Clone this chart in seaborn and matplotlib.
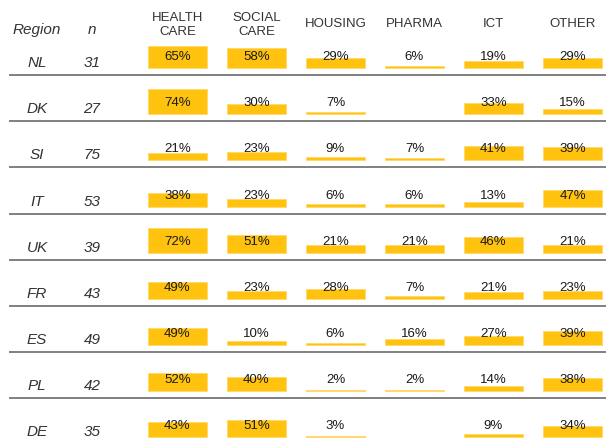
#!/usr/bin/env python

"""
Plot a grid of small bars showing the share of respondents per sector, by region
"""

import matplotlib.pyplot as plt
import pandas as pd
import seaborn as sns

REGIONS = ["NL", "DK", "SI", "IT", "UK", "FR", "ES", "PL", "DE"]
N_RESP = [31, 27, 75, 53, 39, 43, 49, 42, 35]
SECTORS = ["HEALTH\nCARE", "SOCIAL\nCARE", "HOUSING", "PHARMA", "ICT", "OTHER"]
HEALTH_CARE = [65, 74, 21, 38, 72, 49, 49, 52, 43]
SOCIAL_CARE = [58, 30, 23, 23, 51, 23, 10, 40, 51]
HOUSING = [29, 7, 9, 6, 21, 28, 6, 2, 3]
PHARMA = [6, None, 7, 6, 21, 7, 16, 2, None]
ICT = [19, 33, 41, 13, 46, 21, 27, 14, 9]
OTHER = [29, 15, 39, 47, 21, 23, 39, 38, 34]

# Layout (pixels)
W, H, DPI = 606, 443, 100
LEFT, RIGHT = 10, 606
ROW_TOP, ROW_PITCH = 28.9, 46.15
PX_PER_UNIT = 0.345
BAR_GAP = 7
XLIM = (-2.12, 5.424)

BAR_COLOUR = "#FFC20E"
TEXT_COLOUR = "#333333"


def build_table():
    """Long form table of shares"""
    wide = pd.DataFrame(
        {
            "Region": REGIONS,
            "n": N_RESP,
            SECTORS[0]: HEALTH_CARE,
            SECTORS[1]: SOCIAL_CARE,
            SECTORS[2]: HOUSING,
            SECTORS[3]: PHARMA,
            SECTORS[4]: ICT,
            SECTORS[5]: OTHER,
        }
    )
    table = wide.melt(id_vars=["Region", "n"], var_name="Sector", value_name="Share")
    return table.dropna()


def plot_row(row, n, ax, last=False):
    """Plot one region as a row of bars"""
    sns.barplot(
        data=row,
        x="Sector",
        y="Share",
        order=SECTORS,
        color=BAR_COLOUR,
        saturation=1,
        width=0.75,
        errorbar=None,
        edgecolor="#FFD866",
        linewidth=0.6,
        ax=ax,
    )

    ymin = -BAR_GAP / PX_PER_UNIT
    ymax = ymin + ROW_PITCH / PX_PER_UNIT
    ax.set_xlim(*XLIM)
    ax.set_ylim(ymin, ymax)
    ax.set(xlabel=None, ylabel=None, xticks=[], yticks=[])

    # Value labels
    for sector, share in zip(row["Sector"], row["Share"]):
        ax.text(
            SECTORS.index(sector), 8 / PX_PER_UNIT, f"{share:.0f}%",
            ha="center", va="baseline", fontsize=9.5, color="#1a1a1a",
        )

    # Region and n
    region = row["Region"].iloc[0]
    ax.text((37 - LEFT) / (RIGHT - LEFT), 8 / ROW_PITCH, region, transform=ax.transAxes,
            ha="center", va="baseline", fontsize=11, style="italic", color=TEXT_COLOUR)
    ax.text((92 - LEFT) / (RIGHT - LEFT), 8 / ROW_PITCH, str(n), transform=ax.transAxes,
            ha="center", va="baseline", fontsize=11, style="italic", color=TEXT_COLOUR)

    for side in ["top", "left", "right"]:
        ax.spines[side].set_visible(False)
    ax.spines["bottom"].set_visible(not last)
    ax.spines["bottom"].set_color("#808080")
    ax.spines["bottom"].set_linewidth(1.4)
    ax.patch.set_alpha(0)
    return ax


def add_headers(fig):
    """Column headers"""
    fig.text(37 / W, 1 - 34 / H, "Region", ha="center", va="baseline",
             fontsize=11, style="italic", color=TEXT_COLOUR)
    fig.text(92 / W, 1 - 34 / H, "n", ha="center", va="baseline",
             fontsize=11, style="italic", color=TEXT_COLOUR)
    for idx, sector in enumerate(SECTORS):
        x_px = LEFT + (idx - XLIM[0]) / (XLIM[1] - XLIM[0]) * (RIGHT - LEFT)
        # baseline of the last line
        y_px = 35 if "\n" in sector else 27.3
        fig.text(x_px / W, 1 - y_px / H, sector, ha="center", va="baseline",
                 fontsize=9.5, color=TEXT_COLOUR, linespacing=1.2)


def plot_grid(table):
    fig = plt.figure(figsize=(W / DPI, H / DPI), dpi=DPI)
    for idx, (region, n) in enumerate(zip(REGIONS, N_RESP)):
        top = ROW_TOP + idx * ROW_PITCH
        bottom = top + ROW_PITCH
        ax = fig.add_axes([LEFT / W, 1 - bottom / H, (RIGHT - LEFT) / W, ROW_PITCH / H])
        plot_row(table[table["Region"] == region], n, ax, last=idx == len(REGIONS) - 1)
    add_headers(fig)
    return fig


def main():
    sns.set_style("white")
    plt.rcParams["font.family"] = ["Liberation Sans", "DejaVu Sans"]
    table = build_table()
    fig = plot_grid(table)
    fig.savefig("out.png", dpi=DPI)


if __name__ == "__main__":
    main()
